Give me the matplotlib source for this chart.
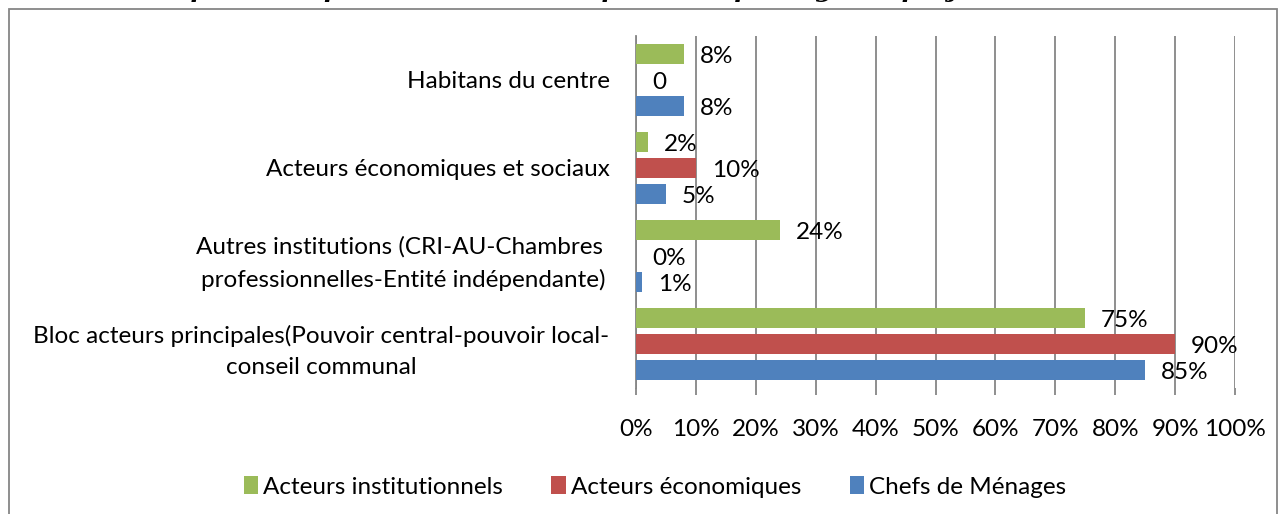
import matplotlib
matplotlib.use("Agg")
import matplotlib.pyplot as plt
from matplotlib.patches import Rectangle

plt.rcParams['font.family'] = ['Lato', 'DejaVu Sans']

# data (percent), listed bottom to top
categories = [
    "Bloc acteurs principales(Pouvoir central-pouvoir local-\nconseil communal",
    "Autres institutions (CRI-AU-Chambres \nprofessionnelles-Entité indépendante)",
    "Acteurs économiques et sociaux",
    "Habitans du centre",
]
chefs = [85, 1, 5, 8]
economiques = [90, 0, 10, 0]
institutionnels = [75, 24, 2, 8]
lab_chefs = ["85%", "1%", "5%", "8%"]
lab_eco = ["90%", "0%", "10%", "0"]
lab_inst = ["75%", "24%", "2%", "8%"]
xticks = list(range(0, 101, 10))

c_blue = "#4F81BD"
c_red = "#C0504D"
c_green = "#9BBB59"
fs = 17.5

W, H = 1280, 514
fig = plt.figure(figsize=(W / 100, H / 100), dpi=100)
ax = fig.add_axes([636 / W, 1 - 388 / H, (1235 - 636) / W, (388 - 36) / H])

ypos = list(range(len(categories)))
step = 0.294
bh = 0.23
series = [
    (chefs, lab_chefs, c_blue, -step, "Chefs de Ménages"),
    (economiques, lab_eco, c_red, 0, "Acteurs économiques"),
    (institutionnels, lab_inst, c_green, step, "Acteurs institutionnels"),
]
handles = {}
for vals, labs, col, off, name in series:
    ys = [y + off for y in ypos]
    b = ax.barh(ys, vals, height=bh, color=col, zorder=3)
    handles[name] = b
    for v, y, t in zip(vals, ys, labs):
        ax.annotate(t, (v, y), xytext=(11.5, -2), textcoords="offset points",
                    ha="left", va="center", fontsize=fs, color="black", zorder=4)

ax.set_xlim(0, 100)
ax.set_ylim(-0.5, len(categories) - 0.5)
ax.set_xticks(xticks)
ax.set_xticklabels([f"{t}%" for t in xticks], fontsize=fs)
ax.set_yticks(ypos)
ax.set_yticklabels(categories, fontsize=fs, multialignment="center", linespacing=1.6)
ax.tick_params(axis="y", length=0, pad=19)
ax.tick_params(axis="x", length=5, width=1.3, color="#868686", pad=17)
ax.grid(axis="x", color="#868686", linewidth=1.3, zorder=0)
for s in ["top", "right", "bottom"]:
    ax.spines[s].set_visible(False)
ax.spines["left"].set_color("#868686")
ax.spines["left"].set_linewidth(1.3)

order = ["Acteurs institutionnels", "Acteurs économiques", "Chefs de Ménages"]
fig.legend([handles[n] for n in order], order, loc="center", ncol=3,
           bbox_to_anchor=(655 / W, 1 - 487 / H), frameon=False, fontsize=fs,
           handlelength=0.6, handleheight=0.7, handletextpad=0.2,
           columnspacing=2.0)

# outer chart frame
fig.patches.append(Rectangle((9 / W, -0.05), 1268 / W, 1.05 - 9 / H,
                             transform=fig.transFigure, fill=False,
                             edgecolor="#868686", linewidth=1.3))

# title, cut off by the top edge as in the source
fig.text(140 / W, 1 + 3 / H, "Graphe 3 : représentations de la phase de pilotage du projet de territoire",
         family="DejaVu Serif", style="italic", weight="bold", fontsize=18,
         ha="left", va="baseline")

fig.savefig("out.png", dpi=100)
